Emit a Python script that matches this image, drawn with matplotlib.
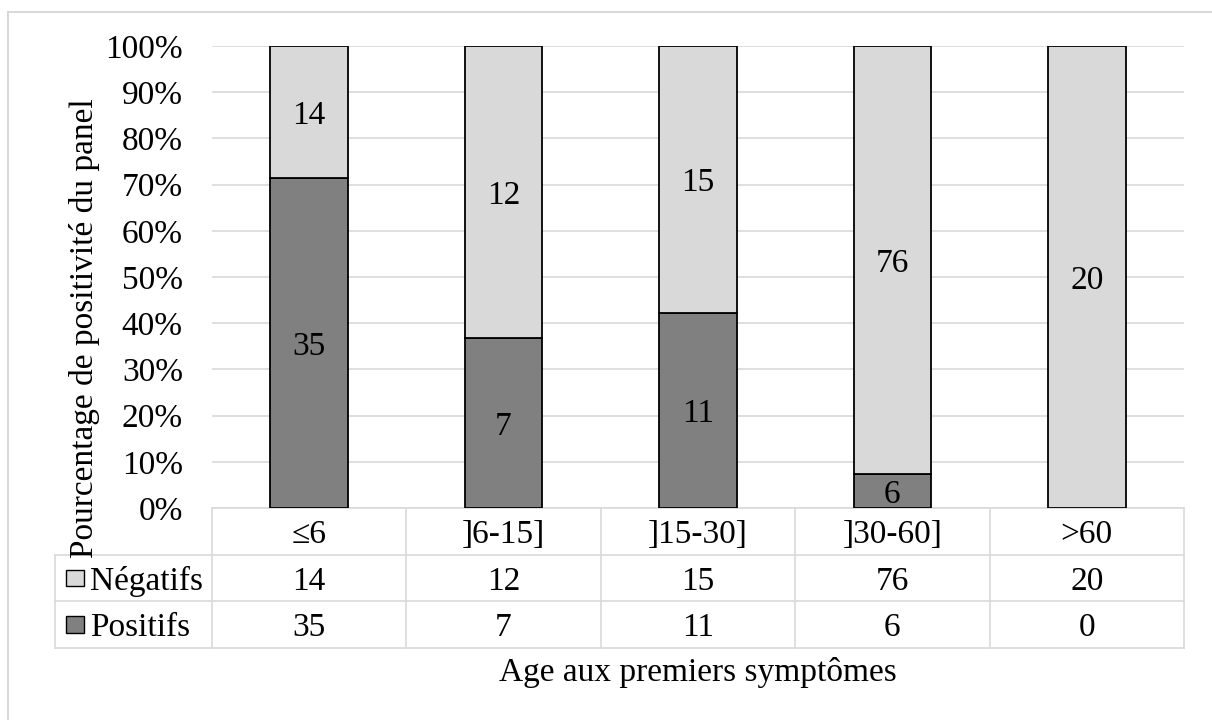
import numpy as np
import matplotlib.pyplot as plt
from matplotlib.transforms import blended_transform_factory
from matplotlib.patches import Rectangle

plt.rcParams['font.family'] = ['Liberation Serif', 'DejaVu Serif']

categories = ['≤6', ']6-15]', ']15-30]', ']30-60]', '>60']
negatifs = [14, 12, 15, 76, 20]
positifs = [35, 7, 11, 6, 0]
row_names = ['Négatifs', 'Positifs']

c_pos = '#808080'
c_neg = '#D9D9D9'
c_grid = '#D9D9D9'
fs = 24

neg = np.array(negatifs, dtype=float)
pos = np.array(positifs, dtype=float)
total = neg + pos
pos_pct = pos / total * 100
neg_pct = neg / total * 100

W, H = 1212, 720
fig = plt.figure(figsize=(W / 100, H / 100), dpi=100)
ax = fig.add_axes([212 / W, 1 - 508 / H, 972 / W, 462 / H])

x = np.arange(len(categories))
ax.bar(x, pos_pct, width=0.4, color=c_pos, edgecolor='black', linewidth=1.3, zorder=3)
ax.bar(x, neg_pct, width=0.4, bottom=pos_pct, color=c_neg, edgecolor='black', linewidth=1.3, zorder=3)

for i in range(len(categories)):
    if pos[i] > 0:
        ax.text(x[i], pos_pct[i] / 2, str(positifs[i]), ha='center', va='center_baseline',
                fontsize=fs, zorder=4)
    if neg[i] > 0:
        ax.text(x[i], pos_pct[i] + neg_pct[i] / 2, str(negatifs[i]), ha='center',
                va='center_baseline', fontsize=fs, zorder=4)

ax.set_xlim(-0.5, len(categories) - 0.5)
ax.set_ylim(0, 100)
ax.set_yticks(np.arange(0, 101, 10))
ax.set_yticklabels([f'{v}%' for v in range(0, 101, 10)], fontsize=fs)
ax.tick_params(axis='y', length=0, pad=21)
ax.set_xticks([])
ax.grid(axis='y', color=c_grid, linewidth=1.2, zorder=0)
for s in ax.spines.values():
    s.set_visible(False)

# data table under the plot
tr = blended_transform_factory(ax.transData, ax.transAxes)
h = 0.101
lw = 1.2
edges = np.arange(len(categories) + 1) - 0.5
left_lab = -0.1615

# horizontal lines
ax.plot([edges[0], edges[-1]], [0, 0], transform=tr, color=c_grid, lw=lw, clip_on=False)
for k in (1, 2, 3):
    ax.plot([left_lab, 1], [-k * h, -k * h], transform=ax.transAxes, color=c_grid, lw=lw, clip_on=False)
# vertical lines
for e in edges:
    ax.plot([e, e], [0, -3 * h], transform=tr, color=c_grid, lw=lw, clip_on=False)
ax.plot([left_lab, left_lab], [-h, -3 * h], transform=ax.transAxes, color=c_grid, lw=lw, clip_on=False)

for i, cat in enumerate(categories):
    ax.text(x[i], -0.5 * h, cat, transform=tr, ha='center', va='center_baseline', fontsize=fs)
    ax.text(x[i], -1.5 * h, str(negatifs[i]), transform=tr, ha='center', va='center_baseline', fontsize=fs)
    ax.text(x[i], -2.5 * h, str(positifs[i]), transform=tr, ha='center', va='center_baseline', fontsize=fs)

for k, (name, col) in enumerate(zip(row_names, [c_neg, c_pos])):
    yc = -(k + 1.5) * h
    sq = 0.036
    ax.add_patch(Rectangle((-0.150, yc - sq / 2), 0.0185, sq, transform=ax.transAxes,
                           facecolor=col, edgecolor='black', lw=1, clip_on=False))
    ax.text(-0.1255, yc, name, transform=ax.transAxes, ha='left', va='center_baseline', fontsize=fs)

fig.text(698 / W, 1 - 672 / H, 'Age aux premiers symptômes', ha='center', va='center', fontsize=fs)
fig.text(84 / W, 1 - 328 / H, 'Pourcentage de positivité du panel', ha='center', va='center',
         rotation=90, fontsize=fs)

# outer chart border
fig.patches.append(Rectangle((8 / W, -0.1), 1.2, 1 - 12 / H + 0.1, transform=fig.transFigure,
                             facecolor='none', edgecolor='#D9D9D9', lw=1.5))

fig.savefig('out.png', dpi=100)
